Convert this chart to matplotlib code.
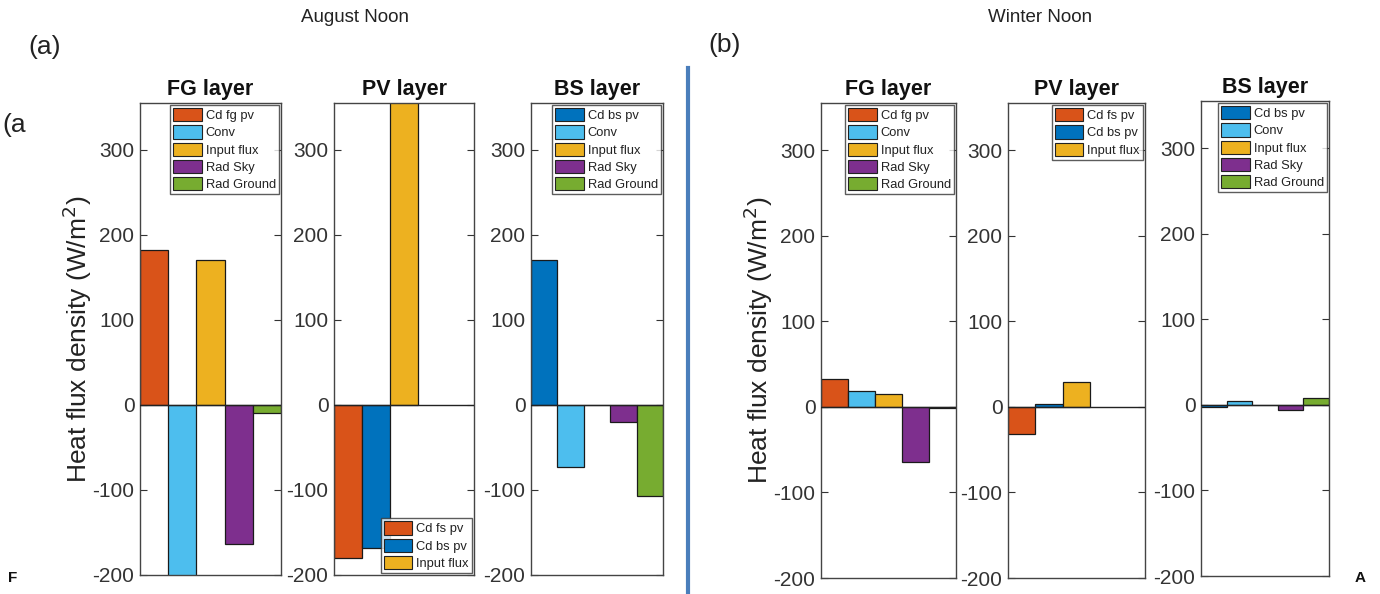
import matplotlib
matplotlib.use("Agg")
import matplotlib.pyplot as plt
from matplotlib.patches import Patch
from matplotlib.lines import Line2D

# ---- data ----
fg_labels = ['Cd fg pv', 'Conv', 'Input flux', 'Rad Sky', 'Rad Ground']
pv_labels = ['Cd fs pv', 'Cd bs pv', 'Input flux']
bs_labels = ['Cd bs pv', 'Conv', 'Input flux', 'Rad Sky', 'Rad Ground']

aug_fg = [182, -215, 170, -163, -10]
aug_pv = [-180, -168, 420]
aug_bs = [170, -73, 0, -20, -107]

win_fg = [33, 18, 15, -65, -1]
win_pv = [-32, 3, 29]
win_bs = [-3, 4, 0, -6, 8]

yticks = [-200, -100, 0, 100, 200, 300]

ORANGE = '#D95319'; LBLUE = '#4DBEEE'; YELLOW = '#EDB120'
PURPLE = '#7E2F8E'; GREEN = '#77AC30'; BLUE = '#0072BD'
fg_colors = [ORANGE, LBLUE, YELLOW, PURPLE, GREEN]
pv_colors = [ORANGE, BLUE, YELLOW]
bs_colors = [BLUE, LBLUE, YELLOW, PURPLE, GREEN]

W, H = 1380, 594
fig = plt.figure(figsize=(13.8, 5.94), dpi=100)
plt.rcParams['font.family'] = ['Liberation Sans', 'DejaVu Sans']

def ax_at(x0, x1, y0, y1):
    return fig.add_axes([x0 / W, 1 - y1 / H, (x1 - x0) / W, (y1 - y0) / H])

def panel(ax, vals, colors, labels, title, legloc, ylabel=False):
    x = list(range(1, len(vals) + 1))
    ax.bar(x, vals, width=1.0, color=colors, edgecolor='#1a1a1a', linewidth=0.9, zorder=2)
    ax.axhline(0, color='#222222', lw=1.0, zorder=3)
    ax.set_xlim(0.5, 5.5)
    ax.set_ylim(-200, 355)
    ax.set_yticks(yticks)
    ax.set_yticklabels([str(t) for t in yticks], fontsize=15, color='#333333')
    ax.set_xticks([])
    ax.tick_params(axis='y', direction='in', length=5, right=True, width=0.8, color='#333333', pad=4)
    for s in ax.spines.values():
        s.set_color('#444444'); s.set_linewidth(1.0)
    ax.set_title(title, fontsize=15.5, fontweight='bold', color='#111111', pad=6)
    if ylabel:
        ax.set_ylabel('Heat flux density (W/m$^2$)', fontsize=19, color='#222222', labelpad=-1)
    handles = [Patch(facecolor=c, edgecolor='#222222', linewidth=0.8) for c in colors]
    leg = ax.legend(handles, labels, loc=legloc, frameon=True, fancybox=False,
                    edgecolor='#333333', borderaxespad=0.15, handlelength=2.2, handleheight=1.2,
                    handletextpad=0.3, labelspacing=0.25, borderpad=0.25,
                    prop={'size': 9.3})
    leg.get_frame().set_linewidth(1.0)
    for t in leg.get_texts():
        t.set_color('#222222')

# August
a1 = ax_at(140, 281, 103, 575)
panel(a1, aug_fg, fg_colors, fg_labels, 'FG layer', 'upper right', ylabel=True)
a2 = ax_at(334, 474, 103, 575)
panel(a2, aug_pv, pv_colors, pv_labels, 'PV layer', 'lower right')
a3 = ax_at(531, 663, 103, 575)
panel(a3, aug_bs, bs_colors, bs_labels, 'BS layer', 'upper right')

# Winter
b1 = ax_at(821, 956, 103, 578)
panel(b1, win_fg, fg_colors, fg_labels, 'FG layer', 'upper right', ylabel=True)
b2 = ax_at(1008, 1145, 103, 578)
panel(b2, win_pv, pv_colors, pv_labels, 'PV layer', 'upper right')
b3 = ax_at(1201, 1329, 101, 576)
panel(b3, win_bs, bs_colors, bs_labels, 'BS layer', 'upper right')

# headings and labels
fig.text(355 / W, 1 - 18 / H, 'August Noon', ha='center', va='center', fontsize=13.5, color='#222222')
fig.text(1040 / W, 1 - 18 / H, 'Winter Noon', ha='center', va='center', fontsize=13.5, color='#222222')
fig.text(45 / W, 1 - 47 / H, '(a)', ha='center', va='center', fontsize=19, color='#222222')
fig.text(725 / W, 1 - 45 / H, '(b)', ha='center', va='center', fontsize=19, color='#222222')
fig.text(2 / W, 1 - 125 / H, '(a', ha='left', va='center', fontsize=19, color='#222222')
fig.text(8 / W, 1 - 578 / H, 'F', ha='left', va='center', fontsize=11, fontweight='bold', color='#111111')
fig.text(1360 / W, 1 - 578 / H, 'A', ha='center', va='center', fontsize=11, fontweight='bold', color='#111111')

# separator line
fig.add_artist(Line2D([688 / W, 688 / W], [0, 1 - 68 / H], color='#4a7ebb', lw=3,
                      transform=fig.transFigure))

fig.savefig('out.png', dpi=100)
